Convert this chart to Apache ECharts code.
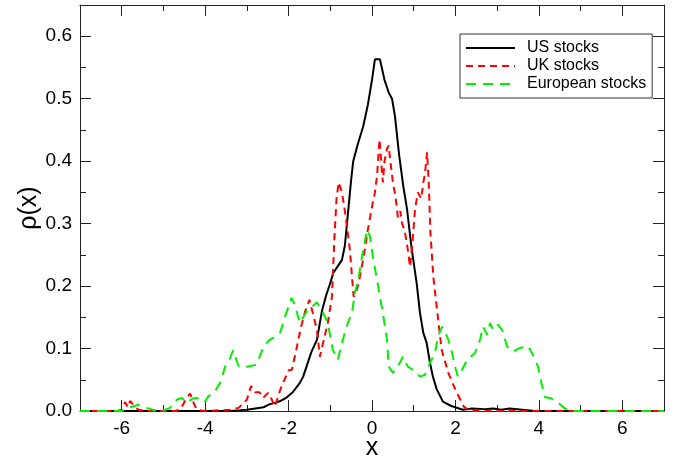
<!DOCTYPE html>
<html>
<head>
<meta charset="utf-8">
<script src="https://cdn.jsdelivr.net/npm/echarts@6/dist/echarts.min.js"></script>
<style>
  html, body { margin: 0; padding: 0; background: #fff; }
  #main { width: 674px; height: 461px; }
</style>
</head>
<body>
<div id="main"></div>
<script>
// tick values
var xMajor = [-6, -4, -2, 0, 2, 4, 6]
var xMinor = [-5, -3, -1, 1, 3, 5]
var yMajor = [0, 0.1, 0.2, 0.3, 0.4, 0.5, 0.6]
var yMinor = [0.05, 0.15, 0.25, 0.35, 0.45, 0.55]

// US stocks: [x, rho(x)]
var usData = [
  [-7, 0], [-3.4, 0], [-3.2, 0.001], [-3.0, 0.002], [-2.8, 0.004], [-2.6, 0.006],
  [-2.45, 0.011], [-2.32, 0.013], [-2.2, 0.016], [-2.04, 0.022], [-1.9, 0.03],
  [-1.73, 0.045], [-1.65, 0.055], [-1.53, 0.079], [-1.45, 0.095], [-1.32, 0.114],
  [-1.2, 0.16], [-1.1, 0.185], [-1.0, 0.205], [-0.93, 0.221], [-0.82, 0.232],
  [-0.72, 0.242], [-0.65, 0.265], [-0.6, 0.30], [-0.5, 0.37], [-0.45, 0.40],
  [-0.35, 0.425], [-0.21, 0.456], [-0.1, 0.49], [0.0, 0.53], [0.07, 0.563],
  [0.19, 0.563], [0.3, 0.53], [0.4, 0.51], [0.48, 0.50], [0.55, 0.472],
  [0.65, 0.41], [0.75, 0.36], [0.84, 0.323], [0.95, 0.26], [1.07, 0.205],
  [1.15, 0.157], [1.23, 0.125], [1.31, 0.109], [1.39, 0.077], [1.46, 0.055],
  [1.55, 0.035], [1.7, 0.015], [1.9, 0.008], [2.18, 0.002], [2.4, 0.004],
  [2.7, 0.003], [2.9, 0.004], [3.1, 0.002], [3.3, 0.004], [3.6, 0.002],
  [3.9, 0], [7, 0]
]

// UK stocks
var ukData = [
  [-7, 0], [-6.1, 0], [-6.0, 0.002], [-5.92, 0.014], [-5.85, 0.006], [-5.8, 0.016],
  [-5.7, 0.008], [-5.6, 0.002], [-5.4, 0], [-4.7, 0], [-4.58, 0.004], [-4.45, 0.02],
  [-4.36, 0.028], [-4.27, 0.012], [-4.2, 0.002], [-4.0, 0], [-3.4, 0.002],
  [-3.2, 0.005], [-3.0, 0.018], [-2.9, 0.04], [-2.8, 0.03], [-2.7, 0.03],
  [-2.61, 0.021], [-2.49, 0.029], [-2.4, 0.018], [-2.33, 0.007], [-2.2, 0.034],
  [-2.1, 0.05], [-2.0, 0.065], [-1.92, 0.066], [-1.8, 0.103], [-1.7, 0.135],
  [-1.6, 0.16], [-1.5, 0.178], [-1.42, 0.157], [-1.32, 0.13], [-1.25, 0.087],
  [-1.15, 0.115], [-1.06, 0.141], [-0.96, 0.183], [-0.9, 0.279], [-0.85, 0.34],
  [-0.8, 0.366], [-0.72, 0.35], [-0.65, 0.32], [-0.6, 0.295], [-0.53, 0.258],
  [-0.48, 0.215], [-0.44, 0.183], [-0.38, 0.19], [-0.32, 0.205], [-0.2, 0.247],
  [-0.1, 0.29], [0.0, 0.327], [0.07, 0.35], [0.12, 0.376], [0.18, 0.435],
  [0.22, 0.40], [0.26, 0.366], [0.3, 0.40], [0.36, 0.42], [0.4, 0.425],
  [0.44, 0.40], [0.5, 0.366], [0.56, 0.345], [0.62, 0.31], [0.68, 0.32],
  [0.72, 0.30], [0.78, 0.29], [0.86, 0.258], [0.91, 0.231], [0.97, 0.27],
  [1.03, 0.322], [1.1, 0.35], [1.18, 0.34], [1.23, 0.366], [1.27, 0.38],
  [1.32, 0.414], [1.36, 0.366], [1.4, 0.286], [1.47, 0.215], [1.55, 0.167],
  [1.67, 0.098], [1.83, 0.061], [2.0, 0.034], [2.2, 0.007], [2.35, 0], [7, 0]
]

// European stocks
var euData = [
  [-7, 0], [-6.0, 0], [-5.9, 0.003], [-5.8, 0.006], [-5.6, 0.01], [-5.4, 0.005],
  [-5.2, 0.001], [-5.04, 0], [-4.84, 0.005], [-4.68, 0.018], [-4.56, 0.021],
  [-4.44, 0.013], [-4.3, 0.02], [-4.08, 0.021], [-4.0, 0.015], [-3.93, 0.023],
  [-3.77, 0.031], [-3.64, 0.045], [-3.52, 0.071], [-3.4, 0.085], [-3.33, 0.097],
  [-3.2, 0.072], [-3.0, 0.071], [-2.77, 0.074], [-2.6, 0.103], [-2.45, 0.114],
  [-2.3, 0.12], [-2.2, 0.126], [-2.09, 0.15], [-1.93, 0.181], [-1.85, 0.17],
  [-1.73, 0.141], [-1.56, 0.16], [-1.32, 0.174], [-1.17, 0.157], [-1.06, 0.141],
  [-0.94, 0.098], [-0.82, 0.082], [-0.7, 0.114], [-0.58, 0.141], [-0.48, 0.157],
  [-0.41, 0.189], [-0.33, 0.21], [-0.24, 0.247], [-0.12, 0.29], [-0.05, 0.28],
  [0.02, 0.247], [0.12, 0.21], [0.19, 0.183], [0.26, 0.157], [0.36, 0.114],
  [0.4, 0.071], [0.5, 0.061], [0.62, 0.071], [0.74, 0.087], [0.86, 0.071],
  [0.98, 0.066], [1.15, 0.055], [1.27, 0.058], [1.39, 0.077], [1.51, 0.093],
  [1.58, 0.119], [1.68, 0.135], [1.75, 0.127], [1.83, 0.114], [1.92, 0.093],
  [1.99, 0.071], [2.06, 0.055], [2.16, 0.066], [2.28, 0.082], [2.47, 0.093],
  [2.59, 0.114], [2.66, 0.135], [2.76, 0.122], [2.83, 0.141], [2.9, 0.13],
  [3.02, 0.138], [3.12, 0.13], [3.24, 0.103], [3.38, 0.095], [3.55, 0.101],
  [3.74, 0.104], [3.86, 0.09], [3.98, 0.071], [4.06, 0.045], [4.15, 0.022],
  [4.27, 0.021], [4.44, 0.015], [4.58, 0.006], [4.75, 0], [7, 0]
]

var font = 'Liberation Sans, Arial, Helvetica, sans-serif'
var frame = '#222'

function xAxisPart(pos, ticks, len, labels, withLine) {
  return {
    type: 'value', position: pos, min: -7, max: 7,
    axisLine: { show: withLine, onZero: false, lineStyle: { color: frame, width: 1 } },
    axisTick: { show: true, inside: true, length: len, customValues: ticks, lineStyle: { color: frame } },
    axisLabel: labels
      ? { show: true, customValues: ticks, color: '#000', fontSize: 19, fontFamily: font, margin: 8 }
      : { show: false },
    splitLine: { show: false }
  }
}

function yAxisPart(pos, ticks, len, labels, withLine) {
  return {
    type: 'value', position: pos, min: 0, max: 0.65,
    axisLine: { show: withLine, onZero: false, lineStyle: { color: frame, width: 1 } },
    axisTick: { show: true, inside: true, length: len, customValues: ticks, lineStyle: { color: frame } },
    axisLabel: labels
      ? {
          show: true, customValues: ticks, color: '#000', fontSize: 19, fontFamily: font, margin: 8,
          formatter: function(v) { return v.toFixed(1) }
        }
      : { show: false },
    splitLine: { show: false }
  }
}

var xBottom = xAxisPart('bottom', xMajor, 11, true, true)
xBottom.name = 'x'
xBottom.nameLocation = 'middle'
xBottom.nameGap = 25
xBottom.nameMoveOverlap = false
xBottom.nameTextStyle = { color: '#000', fontSize: 25, fontFamily: font }

var yLeft = yAxisPart('left', yMajor, 11, true, true)
yLeft.name = 'ρ(x)'
yLeft.nameLocation = 'middle'
yLeft.nameGap = 38
yLeft.nameMoveOverlap = false
yLeft.nameTextStyle = { color: '#000', fontSize: 25, fontFamily: font }

var myChart = echarts.init(document.getElementById('main'))
myChart.setOption({
  animation: false,
  backgroundColor: '#fff',
  grid: { left: 80, right: 10, top: 5, bottom: 50, containLabel: false, outerBoundsMode: 'none' },
  legend: {
    orient: 'vertical',
    left: 460,
    top: 34,
    padding: [5, 6, 5, 5],
    itemGap: 0,
    itemWidth: 49,
    itemHeight: 14,
    backgroundColor: '#fff',
    borderColor: '#333',
    borderWidth: 1,
    borderRadius: 0,
    itemStyle: { opacity: 0 },
    textStyle: { color: '#000', fontSize: 16, fontFamily: font, lineHeight: 18, padding: [0, 0, 0, 7] },
    data: ['US stocks', 'UK stocks', 'European stocks']
  },
  xAxis: [
    xBottom,
    xAxisPart('bottom', xMinor, 6, false, false),
    xAxisPart('top', xMajor, 11, false, true),
    xAxisPart('top', xMinor, 6, false, false)
  ],
  yAxis: [
    yLeft,
    yAxisPart('left', yMinor, 6, false, false),
    yAxisPart('right', yMajor, 11, false, true),
    yAxisPart('right', yMinor, 6, false, false)
  ],
  series: [{
    name: 'US stocks',
    type: 'line',
    symbol: 'none',
    data: usData,
    lineStyle: { color: '#000', width: 2 },
    itemStyle: { color: '#000' }
  }, {
    name: 'UK stocks',
    type: 'line',
    symbol: 'none',
    data: ukData,
    lineStyle: { color: '#ff0000', width: 2, type: [7, 5] },
    itemStyle: { color: '#ff0000' }
  }, {
    name: 'European stocks',
    type: 'line',
    symbol: 'none',
    data: euData,
    lineStyle: { color: '#00f000', width: 2, type: [10, 7] },
    itemStyle: { color: '#00f000' }
  }]
})
window.addEventListener('resize', function() {
  myChart.resize()
})
</script>
</body>
</html>
